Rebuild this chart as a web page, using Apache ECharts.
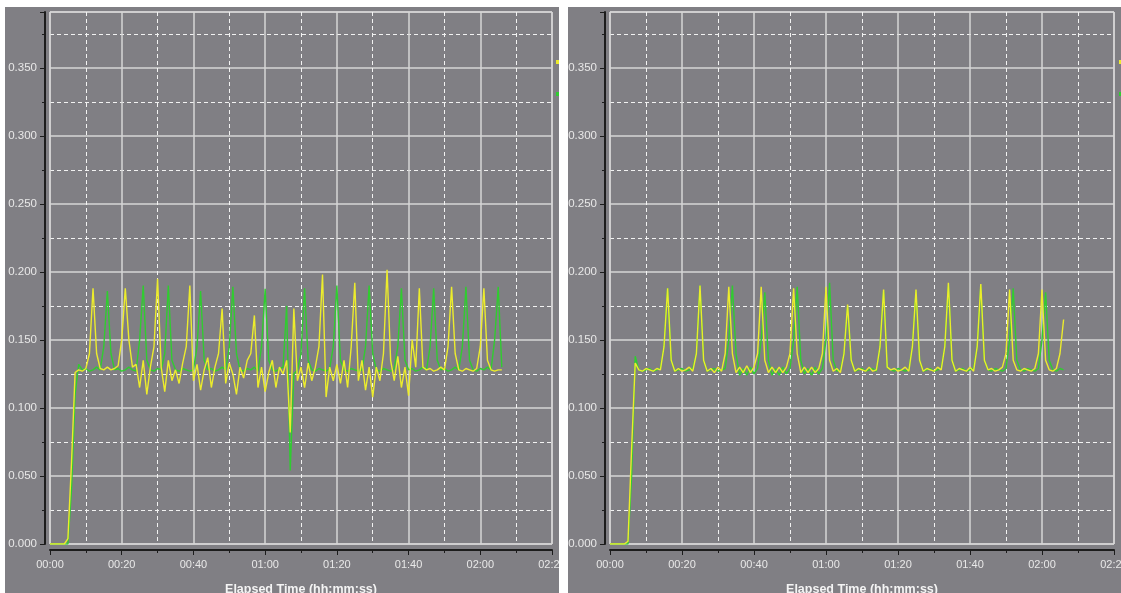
<!DOCTYPE html>
<html>
<head>
<meta charset="utf-8">
<title>Elapsed Time</title>
<script src="https://cdn.jsdelivr.net/npm/echarts@6/dist/echarts.min.js"></script>
<style>
  html, body { margin: 0; padding: 0; background: #ffffff; }
  #chart { width: 1121px; height: 593px; }
</style>
</head>
<body>
<div id="chart"></div>
<script>
// Samples are one second apart, starting at 00:00.
// Run 1 (left panel)
const run1Yellow = [
  0, 0, 0, 0, 0, 0.004, 0.06, 0.126, 0.128, 0.127,
  0.129, 0.14, 0.188, 0.14, 0.129, 0.128, 0.13, 0.128, 0.129, 0.131,
  0.15, 0.188, 0.15, 0.13, 0.132, 0.115, 0.135, 0.11, 0.13, 0.145,
  0.195, 0.13, 0.112, 0.135, 0.12, 0.128, 0.118, 0.133, 0.145, 0.19,
  0.12, 0.132, 0.113, 0.128, 0.137, 0.115, 0.13, 0.14, 0.173, 0.118,
  0.133, 0.125, 0.11, 0.13, 0.122, 0.135, 0.14, 0.168, 0.115, 0.13,
  0.112, 0.126, 0.135, 0.115, 0.13, 0.125, 0.135, 0.082, 0.173, 0.12,
  0.13, 0.115, 0.133, 0.12, 0.13, 0.145, 0.198, 0.108, 0.13, 0.12,
  0.132, 0.118, 0.135, 0.115, 0.145, 0.192, 0.12, 0.135, 0.113, 0.13,
  0.108, 0.13, 0.12, 0.14, 0.2015, 0.135, 0.12, 0.138, 0.115, 0.13,
  0.109, 0.15, 0.13, 0.188, 0.13, 0.128, 0.129, 0.127, 0.128, 0.13,
  0.128, 0.145, 0.189, 0.14, 0.128, 0.127, 0.129, 0.128, 0.127, 0.129,
  0.145, 0.188, 0.135, 0.128, 0.127, 0.128, 0.128
];
const run1Green = [
  0, 0, 0, 0, 0, 0, 0.04, 0.11, 0.132, 0.128,
  0.129, 0.127, 0.128, 0.13, 0.128, 0.145, 0.186, 0.14, 0.128, 0.129,
  0.127, 0.128, 0.13, 0.128, 0.127, 0.15, 0.19, 0.135, 0.128, 0.127,
  0.129, 0.128, 0.14, 0.19, 0.135, 0.128, 0.127, 0.129, 0.128, 0.127,
  0.128, 0.145, 0.186, 0.135, 0.128, 0.129, 0.127, 0.128, 0.13, 0.128,
  0.145, 0.189, 0.14, 0.128, 0.127, 0.129, 0.128, 0.13, 0.127, 0.145,
  0.1875, 0.135, 0.128, 0.127, 0.129, 0.13, 0.175, 0.054, 0.125, 0.128,
  0.14, 0.188, 0.135, 0.128, 0.127, 0.129, 0.128, 0.127, 0.129, 0.145,
  0.19, 0.135, 0.128, 0.127, 0.129, 0.128, 0.127, 0.128, 0.145, 0.19,
  0.14, 0.128, 0.127, 0.129, 0.128, 0.127, 0.129, 0.145, 0.188, 0.135,
  0.128, 0.129, 0.127, 0.128, 0.13, 0.128, 0.145, 0.188, 0.135, 0.128,
  0.129, 0.127, 0.128, 0.13, 0.128, 0.145, 0.189, 0.135, 0.128, 0.127,
  0.129, 0.128, 0.13, 0.128, 0.15, 0.189, 0.13
];
// Run 2 (right panel)
const run2Yellow = [
  0, 0, 0, 0, 0, 0.002, 0.07, 0.133, 0.128, 0.127,
  0.129, 0.128, 0.127, 0.129, 0.128, 0.145, 0.188, 0.135, 0.127, 0.129,
  0.127, 0.128, 0.13, 0.127, 0.14, 0.19, 0.135, 0.127, 0.129, 0.126,
  0.13, 0.127, 0.14, 0.189, 0.14, 0.126, 0.13, 0.126, 0.131, 0.126,
  0.13, 0.14, 0.189, 0.135, 0.126, 0.13, 0.126, 0.13, 0.126, 0.13,
  0.14, 0.188, 0.14, 0.126, 0.13, 0.126, 0.13, 0.126, 0.129, 0.14,
  0.189, 0.135, 0.127, 0.129, 0.126, 0.14, 0.176, 0.135, 0.127, 0.129,
  0.128, 0.127, 0.13, 0.127, 0.128, 0.145, 0.187, 0.13, 0.128, 0.129,
  0.127, 0.128, 0.13, 0.127, 0.145, 0.187, 0.135, 0.127, 0.129, 0.128,
  0.127, 0.13, 0.128, 0.145, 0.192, 0.135, 0.127, 0.129, 0.128, 0.127,
  0.13, 0.127, 0.145, 0.191, 0.135, 0.128, 0.129, 0.127, 0.128, 0.13,
  0.14, 0.187, 0.135, 0.128, 0.127, 0.129, 0.128, 0.127, 0.129, 0.14,
  0.187, 0.135, 0.128, 0.127, 0.129, 0.14, 0.165
];
const run2Green = [
  0, 0, 0, 0, 0, 0, 0.05, 0.138, 0.128, 0.127,
  0.128, 0.129, 0.127, 0.128, 0.129, 0.145, 0.188, 0.135, 0.127, 0.128,
  0.129, 0.127, 0.128, 0.129, 0.14, 0.19, 0.135, 0.127, 0.128, 0.129,
  0.127, 0.128, 0.129, 0.15, 0.19, 0.14, 0.124, 0.129, 0.124, 0.13,
  0.125, 0.129, 0.15, 0.185, 0.135, 0.124, 0.129, 0.124, 0.13, 0.125,
  0.129, 0.15, 0.189, 0.135, 0.125, 0.129, 0.124, 0.13, 0.125, 0.129,
  0.15, 0.192, 0.135, 0.127, 0.128, 0.14, 0.175, 0.135, 0.127, 0.128,
  0.129, 0.127, 0.128, 0.129, 0.127, 0.145, 0.186, 0.13, 0.128, 0.127,
  0.129, 0.128, 0.127, 0.128, 0.145, 0.186, 0.135, 0.127, 0.128, 0.129,
  0.127, 0.128, 0.129, 0.145, 0.19, 0.135, 0.127, 0.128, 0.129, 0.127,
  0.128, 0.129, 0.145, 0.19, 0.135, 0.128, 0.127, 0.129, 0.128, 0.127,
  0.129, 0.15, 0.188, 0.135, 0.128, 0.127, 0.129, 0.128, 0.127, 0.129,
  0.15, 0.185, 0.135, 0.128, 0.127, 0.129, 0.128
];

// Axis ranges (seconds / value)
const timeMax = 140;
const timeStep = 20;
const valueMax = 0.391;
const valueStep = 0.05;
const axisTitle = 'Elapsed Time (hh:mm:ss)';

const YELLOW = '#ecec2c';
const GREEN = '#30cc30';
const PANEL = '#807f84';
const LABEL = '#e8e8e8';

function pairs(values) {
  return values.map((v, i) => [i, v]);
}
function mmss(sec) {
  const m = Math.floor(sec / 60), s = Math.round(sec % 60);
  return String(m).padStart(2, '0') + ':' + String(s).padStart(2, '0');
}

const gridBoxes = [
  { left: 50, top: 12, width: 502, height: 532 },
  { left: 610, top: 12, width: 504, height: 532 }
];

function xAxisFor(i) {
  return {
    type: 'value', gridIndex: i, min: 0, max: timeMax, interval: timeStep,
    offset: 6,
    name: axisTitle, nameLocation: 'middle', nameGap: 33,
    nameTextStyle: { color: '#f4f4f4', fontFamily: 'Liberation Sans', fontSize: 12.5, fontWeight: 'bold' },
    axisLine: { show: true, onZero: false, lineStyle: { color: '#1c1c1c', width: 2 } },
    axisTick: { show: true, length: 5, lineStyle: { color: '#1c1c1c', width: 1 } },
    minorTick: { show: true, splitNumber: 2, length: 3, lineStyle: { color: '#1c1c1c', width: 1 } },
    axisLabel: { color: LABEL, fontFamily: 'Liberation Sans', fontSize: 11, margin: 9, formatter: mmss },
    splitLine: { show: true, lineStyle: { color: '#d6d6d6', width: 1.5 } },
    minorSplitLine: { show: true, lineStyle: { color: '#f2f2f2', width: 1, type: [4, 3] } }
  };
}
function yAxisFor(i) {
  return {
    type: 'value', gridIndex: i, min: 0, max: valueMax, interval: valueStep,
    offset: 5,
    axisLine: { show: true, onZero: false, lineStyle: { color: '#1c1c1c', width: 2 } },
    axisTick: { show: true, length: 5, lineStyle: { color: '#1c1c1c', width: 1 } },
    minorTick: { show: true, splitNumber: 2, length: 3, lineStyle: { color: '#1c1c1c', width: 1 } },
    axisLabel: {
      color: LABEL, fontFamily: 'Liberation Sans', fontSize: 11.5, margin: 8,
      showMaxLabel: false, formatter: v => v.toFixed(3)
    },
    splitLine: { show: true, lineStyle: { color: '#d6d6d6', width: 1.5 } },
    minorSplitLine: { show: true, lineStyle: { color: '#f2f2f2', width: 1, type: [4, 3] } }
  };
}
function lineSeries(name, values, color, i) {
  return {
    name, type: 'line', xAxisIndex: i, yAxisIndex: i,
    data: pairs(values), showSymbol: false, symbol: 'rect',
    lineStyle: { color, width: 1.4 }, itemStyle: { color },
    emphasis: { disabled: true }
  };
}
function legendFor(left, names) {
  return {
    left, top: 60, orient: 'vertical', icon: 'rect',
    itemWidth: 3, itemHeight: 4, itemGap: 28, padding: 0,
    selectedMode: false, formatter: () => '',
    textStyle: { fontSize: 4, padding: 0 },
    data: names
  };
}

const chart = echarts.init(document.getElementById('chart'), null, { renderer: 'canvas' });
chart.setOption({
  animation: false,
  backgroundColor: '#ffffff',
  graphic: [
    { type: 'rect', z: -10, shape: { x: 5, y: 7, width: 554, height: 586 }, style: { fill: PANEL } },
    { type: 'rect', z: -10, shape: { x: 568, y: 7, width: 553, height: 586 }, style: { fill: PANEL } },
    { type: 'rect', z: 100, shape: { x: 559, y: 0, width: 9, height: 593 }, style: { fill: '#ffffff' } }
  ],
  grid: gridBoxes.map(b => Object.assign({
    show: true, backgroundColor: PANEL, borderColor: '#f4f4f4', borderWidth: 1,
    containLabel: false, outerBoundsMode: 'none'
  }, b)),
  legend: [
    legendFor(556, ['Run 1 A', 'Run 1 B']),
    legendFor(1119, ['Run 2 A', 'Run 2 B'])
  ],
  xAxis: [xAxisFor(0), xAxisFor(1)],
  yAxis: [yAxisFor(0), yAxisFor(1)],
  series: [
    lineSeries('Run 1 B', run1Green, GREEN, 0),
    lineSeries('Run 1 A', run1Yellow, YELLOW, 0),
    lineSeries('Run 2 B', run2Green, GREEN, 1),
    lineSeries('Run 2 A', run2Yellow, YELLOW, 1)
  ]
});
</script>
</body>
</html>
